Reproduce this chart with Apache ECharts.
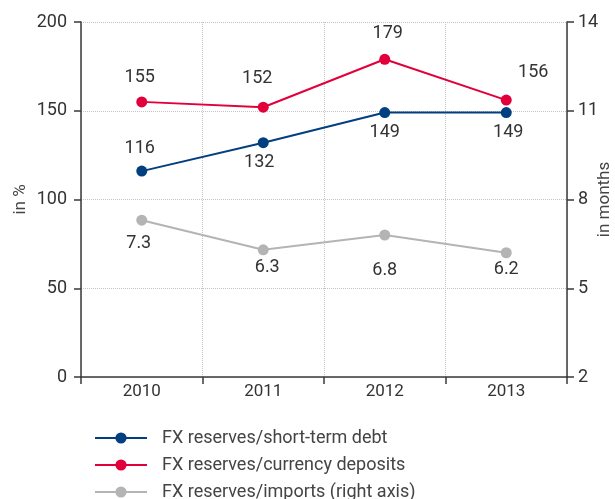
<!DOCTYPE html>
<html><head><meta charset="utf-8">
<script src="https://cdn.jsdelivr.net/npm/echarts@6/dist/echarts.min.js"></script>
<style>html,body{margin:0;padding:0;background:#fff}#c{width:615px;height:499px}</style>
</head><body><div id="c"></div>
<script>
const categories = ['2010','2011','2012','2013'];
const shortTermDebt = [116, 132, 149, 149];
const currencyDeposits = [155, 152, 179, 156];
const importsMonths = [7.3, 6.3, 6.8, 6.2];
const leftTicks = [0, 200, 50];   // min, max, interval
const rightTicks = [2, 14, 3];
const names = ['FX reserves/short-term debt','FX reserves/currency deposits','FX reserves/imports (right axis)'];

const blueOff = [[-2,-23],[-4,20],[0,20],[2,20]];
const redOff = [[-2,-24],[-6,-29],[3,-26],[27,-28]];
const grayOff = [[-3,23],[4,18],[0,35],[0,17]];

const font = 'Roboto, "Liberation Sans", sans-serif';
const txt = '#333';
const axisCol = '#3a3a3a';

function mk(vals, offs){
  return vals.map((v,i)=>({value:v, label:{offset:offs[i]}}));
}
function series(name, vals, offs, color, yIdx){
  return {
    name, type:'line', yAxisIndex:yIdx, data:mk(vals, offs),
    symbol:'circle', symbolSize:11,
    lineStyle:{color, width:2}, itemStyle:{color},
    label:{show:true, position:'inside', color:txt, fontSize:18, fontFamily:font,
      formatter:p=>String(p.value)},
    emphasis:{disabled:true}, animation:false
  };
}
function tickStyle(len, col){ return {show:true, inside:false, length:len, lineStyle:{color:col, width:1.5}}; }
const chart = echarts.init(document.getElementById('c'), null, {renderer:'canvas'});
chart.setOption({
  animation:false,
  grid:{left:81, right:48, top:22, bottom:122, containLabel:false, outerBoundsMode:'none'},
  legend:names.map((n,i)=>({
    orient:'vertical', left:94, top:429 + i*27, itemWidth:52, itemHeight:14,
    padding:0,
    textStyle:{color:'#444', fontSize:18, fontFamily:font, lineHeight:18, padding:[0,0,0,10]},
    data:[n]
  })),
  xAxis:{
    type:'category', data:categories, boundaryGap:true,
    axisLine:{lineStyle:{color:axisCol, width:1.5}},
    axisTick:tickStyle(7, axisCol),
    axisLabel:{color:txt, fontSize:17, fontFamily:font, margin:6},
    splitLine:{show:true, lineStyle:{color:'#c4c4c4', type:'dotted', width:1}}
  },
  yAxis:[{
    type:'value', min:leftTicks[0], max:leftTicks[1], interval:leftTicks[2], position:'left',
    name:'in %', nameLocation:'middle', nameGap:52, nameRotate:90, nameMoveOverlap:false,
    nameTextStyle:{color:'#444', fontSize:17, fontFamily:font},
    axisLine:{show:true, lineStyle:{color:axisCol, width:1.5}},
    axisTick:tickStyle(7, axisCol),
    axisLabel:{color:txt, fontSize:18, fontFamily:font, margin:14},
    splitLine:{show:true, lineStyle:{color:'#c4c4c4', type:'dotted', width:1}}
  },{
    type:'value', min:rightTicks[0], max:rightTicks[1], interval:rightTicks[2], position:'right',
    name:'in months', nameLocation:'middle', nameGap:29, nameRotate:90, nameMoveOverlap:false,
    nameTextStyle:{color:'#444', fontSize:17, fontFamily:font},
    axisLine:{show:true, lineStyle:{color:axisCol, width:1.5}},
    axisTick:tickStyle(7, axisCol),
    axisLabel:{color:txt, fontSize:18, fontFamily:font, margin:11},
    splitLine:{show:false}
  }],
  series:[
    series(names[0], shortTermDebt, blueOff, '#003f80', 0),
    series(names[1], currencyDeposits, redOff, '#e2003b', 0),
    series(names[2], importsMonths, grayOff, '#b4b4b4', 1)
  ]
});
</script></body></html>
